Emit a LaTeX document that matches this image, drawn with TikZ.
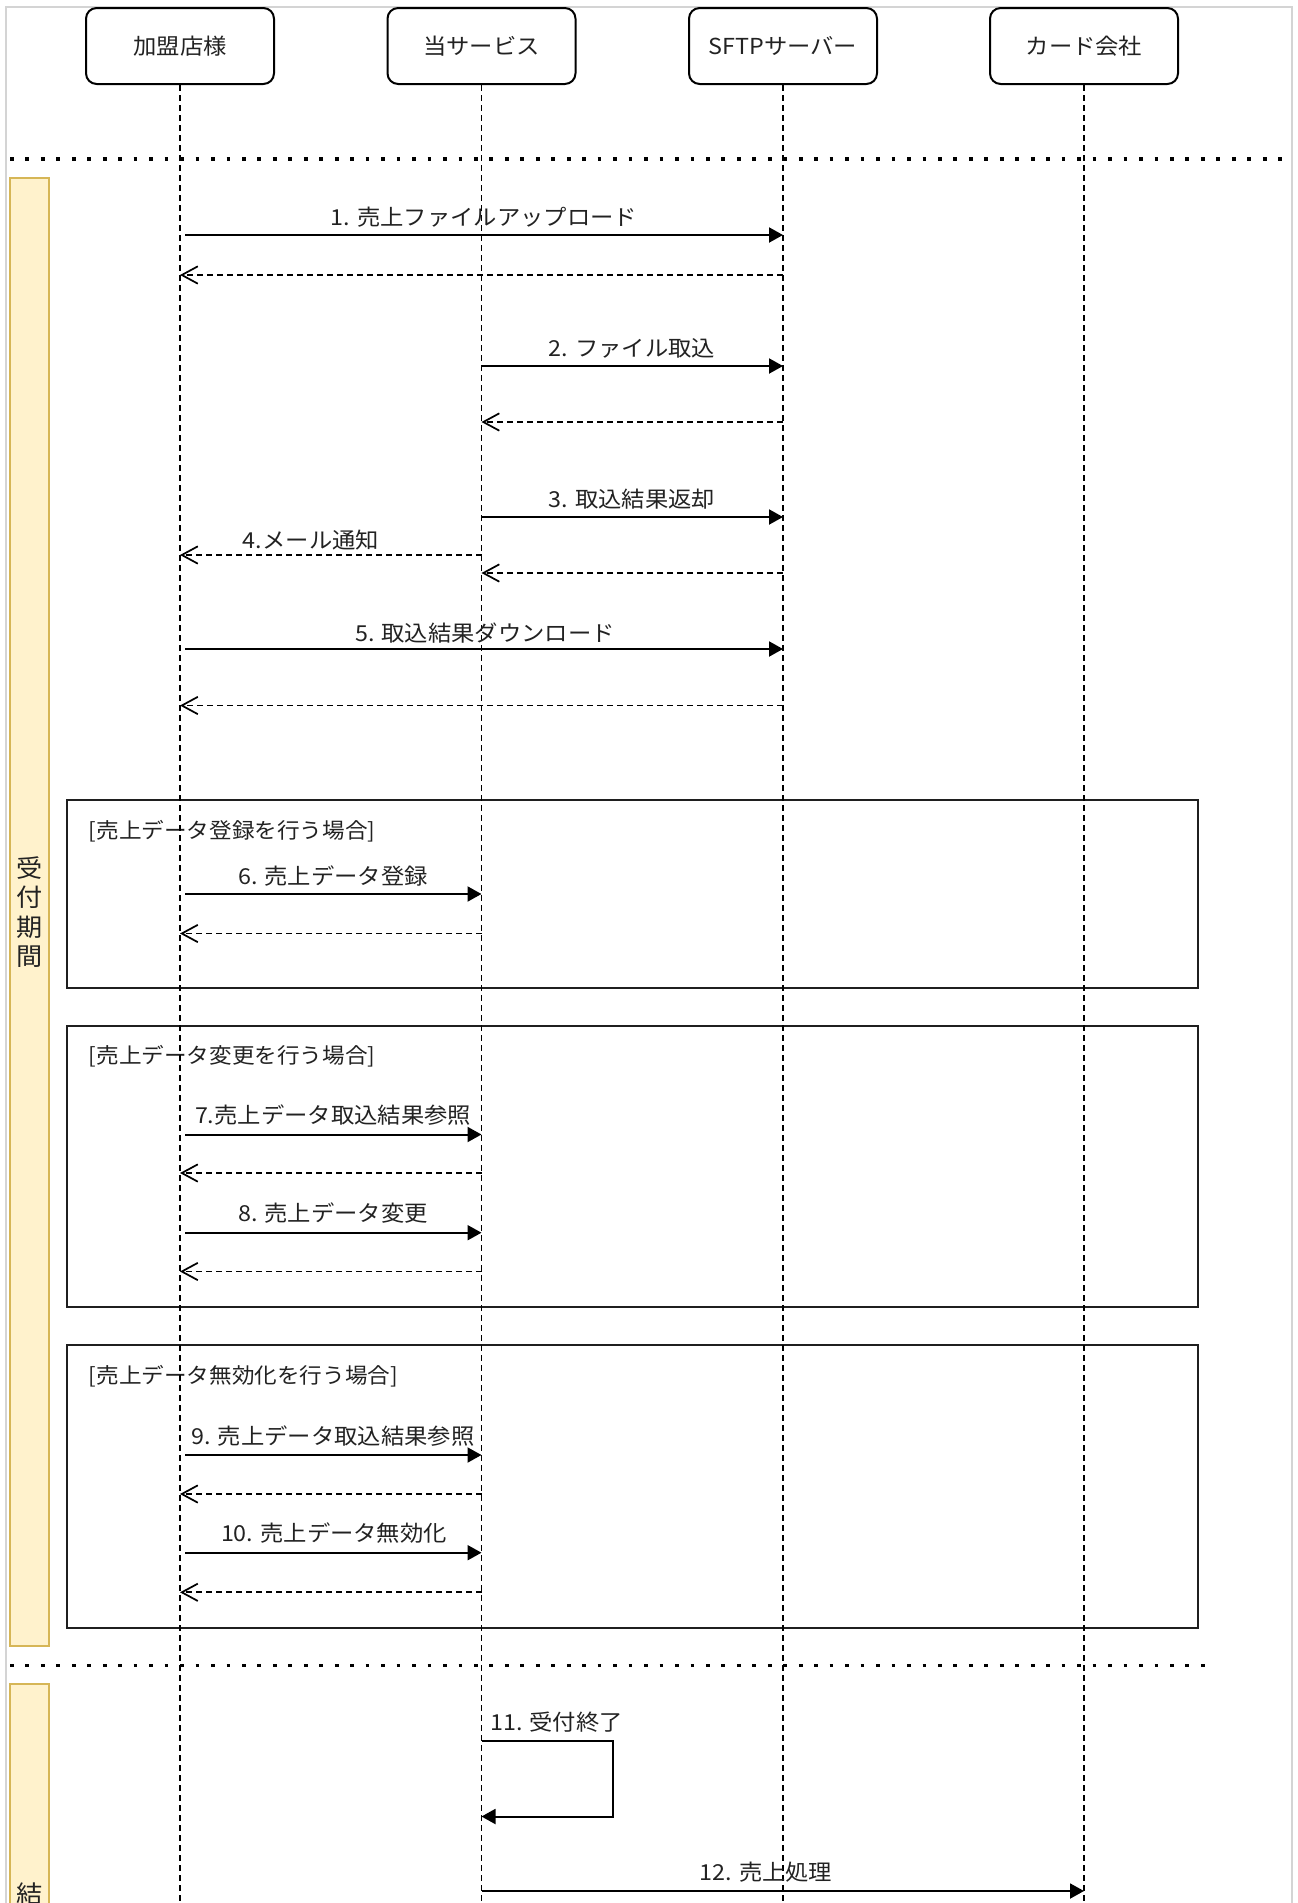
\documentclass[tikz,border=0pt]{standalone}
\usepackage{fontspec}
\setmainfont{Noto Sans CJK JP}[FakeStretch=1.06]
\usetikzlibrary{arrows.meta}
\definecolor{txt}{HTML}{222222}
\definecolor{bandfill}{HTML}{FFF2CC}
\definecolor{bandline}{HTML}{D6B656}
\definecolor{outer}{HTML}{D4D4D4}
\newcommand\lblfont{\fontsize{16.5pt}{20pt}\selectfont}
\newcommand\frmfont{\fontsize{16pt}{20pt}\selectfont}
\newcommand\bandfont{\fontsize{18.5pt}{22pt}\selectfont}
\tikzset{
  part/.style={draw=black, line width=1.5pt, rounded corners=8pt, minimum width=141pt,
    minimum height=57pt, inner sep=0pt, fill=white, text=txt, font=\lblfont,
    text height=14.5pt, text depth=2pt},
  life/.style={line width=1.3pt, dash pattern=on 4.5pt off 3pt},
  msg/.style={line width=1.5pt, -{Triangle[length=10.5pt,width=11.25pt]}},
  ret/.style={line width=1.3pt, dash pattern=on 4.5pt off 3pt,
    -{Straight Barb[length=12pt,width=13pt,line width=1.3pt]}},
  lbl/.style={inner sep=0pt, text=txt, font=\lblfont, text height=14.5pt, text depth=2pt},
  frmlbl/.style={inner sep=0pt, text=txt, font=\frmfont, text height=14pt, text depth=2pt, anchor=west},
  frm/.style={draw=black!88, line width=1.5pt},
  sep/.style={line width=2.6pt, dash pattern=on 2.8pt off 8.8pt},
  band/.style={fill=bandfill, draw=bandline, line width=1.5pt},
  bandlbl/.style={inner sep=0pt, text=txt, font=\bandfont, align=center},
}
\begin{document}
\begin{tikzpicture}[x=0.75pt, y=-0.75pt]
\useasboundingbox (0,0) rectangle (1297,1903);
\clip (0,0) rectangle (1297,1903);
% outer border
\draw[outer, line width=1.5pt] (6,7) rectangle (1292,1960);
% bands
\draw[band] (10.4,178) rectangle (49,1646);
\node[bandlbl] (bl1) at (29.5,912) {受\\付\\期\\間};
\draw[band] (10.4,1684) rectangle (49,1960);
\node[bandlbl] (bl2) at (29.5,1894) {結};
% separators
\coordinate (s1a) at (10,159); \coordinate (s1b) at (1282,159);
\draw[sep] (s1a) -- (s1b);
\coordinate (s2a) at (10,1665.5); \coordinate (s2b) at (1205,1665.5);
\draw[sep] (s2a) -- (s2b);
% frames
\draw[frm] (66.7,800) rectangle (1197.5,987.7);
\node[frmlbl] (f1) at (88.5,830) {[売上データ登録を行う場合]};
\draw[frm] (66.7,1025.5) rectangle (1197.5,1307);
\node[frmlbl] (f2) at (88.5,1055.7) {[売上データ変更を行う場合]};
\draw[frm] (66.7,1345) rectangle (1197.5,1628);
\node[frmlbl] (f3) at (88.5,1375) {[売上データ無効化を行う場合]};
% participants
\node[part] (p1) at (180,46) {加盟店様};
\node[part] (p2) at (481.5,46) {当サービス};
\node[part] (p3) at (783,46) {SFTPサーバー};
\node[part] (p4) at (1084,46) {カード会社};
% lifelines
\coordinate (e1) at (180,1910);
\coordinate (e2) at (481.5,1910);
\coordinate (e3) at (783,1910);
\coordinate (e4) at (1084,1910);
\draw[life] (p1) -- (e1);
\draw[life] (p2) -- (e2);
\draw[life] (p3) -- (e3);
\draw[life] (p4) -- (e4);
% message 1
\coordinate (m1a) at (185,235); \coordinate (m1b) at (783,235);
\draw[msg] (m1a) -- (m1b);
\node[lbl] (t1) at (484,217) {1. 売上ファイルアップロード};
\coordinate (r1a) at (783,275); \coordinate (r1b) at (180,275);
\draw[ret] (r1a) -- (r1b);
% message 2
\coordinate (m2a) at (481.5,366); \coordinate (m2b) at (783,366);
\draw[msg] (m2a) -- (m2b);
\node[lbl] (t2) at (632,348) {2. ファイル取込};
\coordinate (r2a) at (783,422); \coordinate (r2b) at (481.5,422);
\draw[ret] (r2a) -- (r2b);
% message 3
\coordinate (m3a) at (481.5,517); \coordinate (m3b) at (783,517);
\draw[msg] (m3a) -- (m3b);
\node[lbl] (t3) at (632,499) {3. 取込結果返却};
% message 4
\coordinate (m4a) at (481.5,555); \coordinate (m4b) at (180,555);
\draw[ret] (m4a) -- (m4b);
\node[lbl] (t4) at (311,540) {4.メール通知};
\coordinate (r3a) at (783,573); \coordinate (r3b) at (481.5,573);
\draw[ret] (r3a) -- (r3b);
% message 5
\coordinate (m5a) at (185,649); \coordinate (m5b) at (783,649);
\draw[msg] (m5a) -- (m5b);
\node[lbl] (t5) at (485,633) {5. 取込結果ダウンロード};
\coordinate (r5a) at (783,705.5); \coordinate (r5b) at (180,705.5);
\draw[ret] (r5a) -- (r5b);
% message 6
\coordinate (m6a) at (185,894); \coordinate (m6b) at (481.5,894);
\draw[msg] (m6a) -- (m6b);
\node[lbl] (t6) at (333,876.5) {6. 売上データ登録};
\coordinate (r6a) at (481.5,933.5); \coordinate (r6b) at (180,933.5);
\draw[ret] (r6a) -- (r6b);
% message 7
\coordinate (m7a) at (185,1134.5); \coordinate (m7b) at (481.5,1134.5);
\draw[msg] (m7a) -- (m7b);
\node[lbl] (t7) at (333,1115) {7.売上データ取込結果参照};
\coordinate (r7a) at (481.5,1173); \coordinate (r7b) at (180,1173);
\draw[ret] (r7a) -- (r7b);
% message 8
\coordinate (m8a) at (185,1232.7); \coordinate (m8b) at (481.5,1232.7);
\draw[msg] (m8a) -- (m8b);
\node[lbl] (t8) at (333,1213) {8. 売上データ変更};
\coordinate (r8a) at (481.5,1271.5); \coordinate (r8b) at (180,1271.5);
\draw[ret] (r8a) -- (r8b);
% message 9
\coordinate (m9a) at (185,1455); \coordinate (m9b) at (481.5,1455);
\draw[msg] (m9a) -- (m9b);
\node[lbl] (t9) at (333,1436.5) {9. 売上データ取込結果参照};
\coordinate (r9a) at (481.5,1494); \coordinate (r9b) at (180,1494);
\draw[ret] (r9a) -- (r9b);
% message 10
\coordinate (m10a) at (185,1552.7); \coordinate (m10b) at (481.5,1552.7);
\draw[msg] (m10a) -- (m10b);
\node[lbl] (t10) at (334,1533) {10. 売上データ無効化};
\coordinate (r10a) at (481.5,1592.3); \coordinate (r10b) at (180,1592.3);
\draw[ret] (r10a) -- (r10b);
% message 11 (self)
\coordinate (m11a) at (481.5,1741); \coordinate (m11b) at (613,1741);
\coordinate (m11c) at (613,1816.5); \coordinate (m11d) at (481.5,1816.5);
\draw[msg] (m11a) -- (m11b) -- (m11c) -- (m11d);
\node[lbl, anchor=west] (t11) at (490,1722.5) {11. 受付終了};
% message 12
\coordinate (m12a) at (481.5,1891); \coordinate (m12b) at (1084,1891);
\draw[msg] (m12a) -- (m12b);
\node[lbl] (t12) at (766,1872) {12. 売上処理};
\end{tikzpicture}
\end{document}
